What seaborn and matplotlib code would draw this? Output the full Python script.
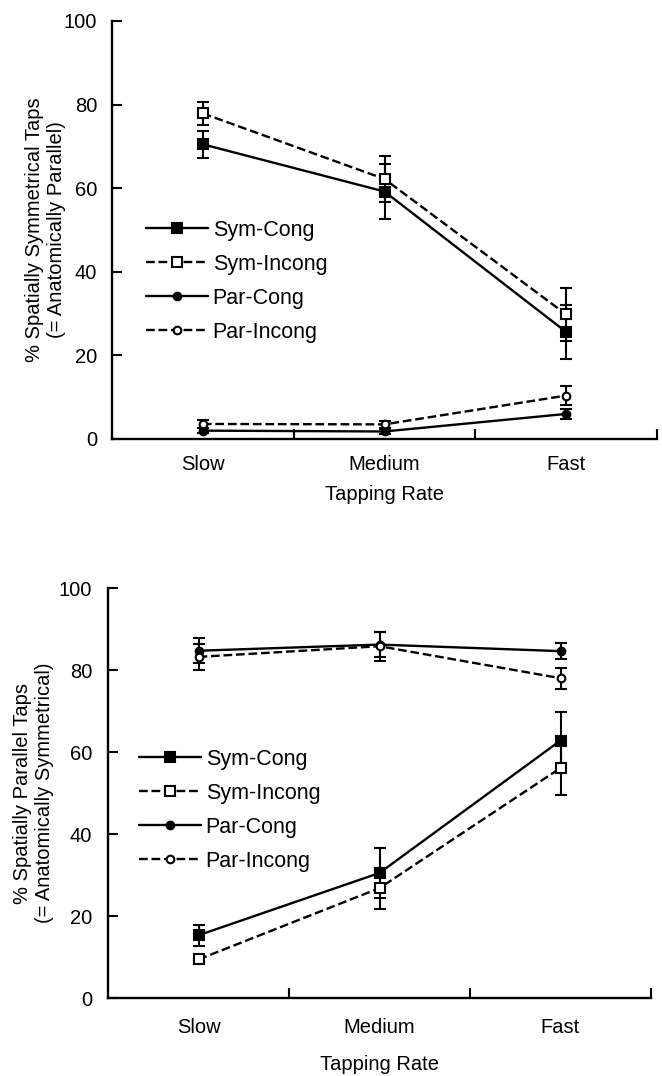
import matplotlib
matplotlib.use("Agg")
import matplotlib.pyplot as plt
import seaborn as sns
import pandas as pd
from matplotlib.ticker import FixedLocator

# ---- data ----
rates = ["Slow", "Medium", "Fast"]
series = ["Sym-Cong", "Sym-Incong", "Par-Cong", "Par-Incong"]

# Top panel: % spatially symmetrical taps
top_sym_cong = [70.5, 59.2, 25.6]
top_sym_cong_err = [3.2, 6.5, 6.4]
top_sym_incong = [77.9, 62.2, 29.8]
top_sym_incong_err = [2.8, 5.4, 6.4]
top_par_cong = [2.0, 1.8, 6.0]
top_par_cong_err = [0.6, 0.5, 1.1]
top_par_incong = [3.6, 3.5, 10.4]
top_par_incong_err = [1.0, 0.8, 2.2]

# Bottom panel: % spatially parallel taps
bot_sym_cong = [15.3, 30.5, 62.8]
bot_sym_cong_err = [2.5, 6.0, 7.0]
bot_sym_incong = [9.4, 26.8, 56.1]
bot_sym_incong_err = [1.0, 5.0, 6.7]
bot_par_cong = [84.7, 86.2, 84.6]
bot_par_cong_err = [3.0, 3.0, 2.0]
bot_par_incong = [83.2, 85.8, 78.0]
bot_par_incong_err = [3.2, 3.5, 2.6]

styles = {
    "Sym-Cong":   dict(marker="s", ms=7.5, mfc="black", ls="-"),
    "Sym-Incong": dict(marker="s", ms=7.0, mfc="white", ls="--"),
    "Par-Cong":   dict(marker="o", ms=5.5, mfc="black", ls="-"),
    "Par-Incong": dict(marker="o", ms=5.5, mfc="white", ls="--"),
}

sns.set_theme(style="white")
plt.rcParams["font.family"] = ["Liberation Sans", "DejaVu Sans"]
for k in ["text.color", "axes.labelcolor", "xtick.color", "ytick.color", "axes.edgecolor"]:
    plt.rcParams[k] = "black"

fig = plt.figure(figsize=(6.62, 10.76), dpi=100)
ax_top = fig.add_axes([112/662, 1-439/1076, 545/662, 418/1076])
ax_bot = fig.add_axes([108/662, 1-998/1076, 543/662, 410/1076])


def draw_panel(ax, vals, errs, ylabel, ylab_x, xlab_y, xpad, ypad, leg_anchor):
    for name, v, e in zip(series, vals, errs):
        df = pd.DataFrame({"rate": rates, "value": v})
        st = styles[name]
        ax.errorbar(rates, v, yerr=e, fmt="none", ecolor="black",
                    elinewidth=1.5, capsize=4.6, capthick=1.5, zorder=2,
                    clip_on=False)
        sns.lineplot(data=df, x="rate", y="value", ax=ax, color="black",
                     sort=False, label=name, linewidth=1.7,
                     linestyle=st["ls"], marker=st["marker"],
                     markersize=st["ms"], markerfacecolor=st["mfc"],
                     markeredgecolor="black", markeredgewidth=1.5,
                     zorder=3, clip_on=False,
                     **({"dashes": (2.6, 2.2)} if st["ls"] == "--" else {}))
    ax.set_xlim(-0.5, 2.5)
    ax.set_ylim(0, 100)
    ax.set_yticks([0, 20, 40, 60, 80, 100])
    ax.xaxis.set_minor_locator(FixedLocator([0.5, 1.5, 2.5]))
    ax.tick_params(axis="x", which="major", length=0, pad=xpad, labelsize=14.5)
    ax.tick_params(axis="x", which="minor", direction="in", length=7,
                   width=1.5, color="black", bottom=True)
    ax.tick_params(axis="y", which="major", direction="in", length=7,
                   width=1.5, color="black", pad=ypad, labelsize=14.5, left=True)
    for s in ["top", "right"]:
        ax.spines[s].set_visible(False)
    for s in ["left", "bottom"]:
        ax.spines[s].set_linewidth(1.7)
        ax.spines[s].set_color("black")
    ax.set_xlabel("Tapping Rate", fontsize=14.5)
    ax.xaxis.set_label_coords(0.5, xlab_y)
    ax.set_ylabel(ylabel, fontsize=14.5, linespacing=1.15)
    ax.yaxis.set_label_coords(ylab_x, 0.5)
    ax.grid(False)
    handles, labels = ax.get_legend_handles_labels()
    ax.legend(handles, labels, loc="upper left", bbox_to_anchor=leg_anchor,
              bbox_transform=fig.transFigure, frameon=False, fontsize=15.5,
              handlelength=2.9, handletextpad=0.2, labelspacing=0.6,
              borderpad=0, borderaxespad=0, numpoints=1)


draw_panel(ax_top,
           [top_sym_cong, top_sym_incong, top_par_cong, top_par_incong],
           [top_sym_cong_err, top_sym_incong_err, top_par_cong_err, top_par_incong_err],
           "% Spatially Symmetrical Taps\n(= Anatomically Parallel)",
           -0.085, -0.11, 11.5, 10.8, (146/662, 1-220/1076))
draw_panel(ax_bot,
           [bot_sym_cong, bot_sym_incong, bot_par_cong, bot_par_incong],
           [bot_sym_cong_err, bot_sym_incong_err, bot_par_cong_err, bot_par_incong_err],
           "% Spatially Parallel Taps\n(= Anatomically Symmetrical)",
           -0.1, -0.139, 14.4, 11.5, (139/662, 1-749/1076))

fig.savefig("out.png", dpi=100, facecolor="white")
